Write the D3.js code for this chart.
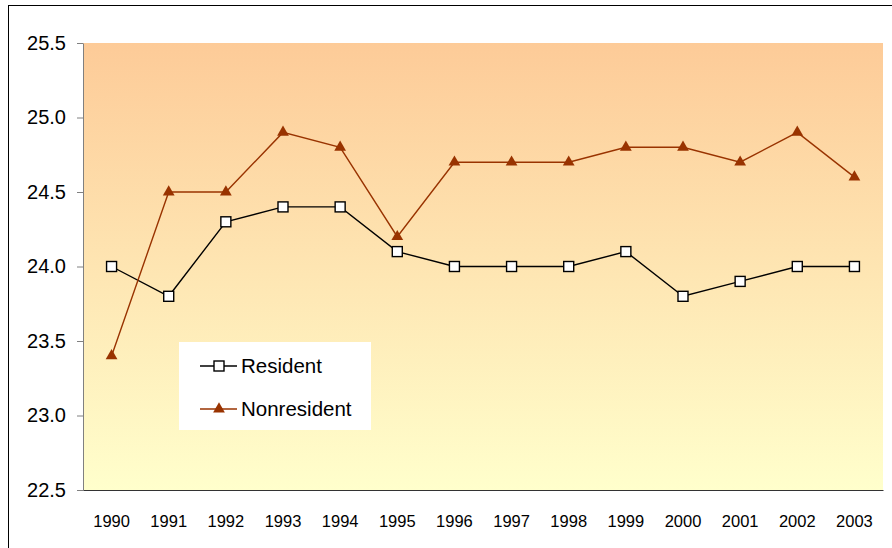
<!DOCTYPE html>
<html><head><meta charset="utf-8">
<script src="https://cdn.jsdelivr.net/npm/d3@7"></script>
<style>body{margin:0;background:#fff;font-family:"Liberation Sans",Arial,sans-serif;}</style>
</head><body>
<svg id="chart" width="892" height="548"></svg>
<script>
const years = ["1990","1991","1992","1993","1994","1995","1996","1997","1998","1999","2000","2001","2002","2003"];
const resident = [24.0,23.8,24.3,24.4,24.4,24.1,24.0,24.0,24.0,24.1,23.8,23.9,24.0,24.0];
const nonresident = [23.4,24.5,24.5,24.9,24.8,24.2,24.7,24.7,24.7,24.8,24.8,24.7,24.9,24.6];
const yTicks = [22.5,23.0,23.5,24.0,24.5,25.0,25.5];
const seriesNames = ["Resident","Nonresident"];

const svg = d3.select("#chart");
const L=83, R=883, T=43, B=490;

// outer border
svg.append("rect").attr("x",8.5).attr("y",5.5).attr("width",900).attr("height",600)
  .attr("fill","none").attr("stroke","#000").attr("stroke-width",1);

const defs = svg.append("defs");
const grad = defs.append("linearGradient").attr("id","bg").attr("x1",0).attr("y1",0).attr("x2",0).attr("y2",1);
grad.append("stop").attr("offset","0%").attr("stop-color","#FDCB98");
grad.append("stop").attr("offset","100%").attr("stop-color","#FFFFCC");

svg.append("rect").attr("x",L).attr("y",T).attr("width",R-L).attr("height",B-T).attr("fill","url(#bg)");

const x = d3.scaleBand().domain(years).range([L,R]);
const y = d3.scaleLinear().domain([22.5,25.5]).range([B,T]);

// y axis
const yAxis = svg.append("g").attr("transform",`translate(${L},0)`)
  .call(d3.axisLeft(y).tickValues(yTicks).tickFormat(d3.format(".1f")).tickSize(6).tickSizeOuter(0));
yAxis.select(".domain").attr("stroke","#808080");
yAxis.selectAll(".tick line").attr("stroke","#808080");
yAxis.selectAll("text").attr("font-size",20).attr("font-family","Liberation Sans, Arial").attr("fill","#000").attr("x",-17);

// x axis
const xAxis = svg.append("g").attr("transform",`translate(0,${B})`)
  .call(d3.axisBottom(x).tickSize(0).tickSizeOuter(0));
xAxis.select(".domain").attr("stroke","#333");
xAxis.selectAll("text").attr("font-size",16.5).attr("font-family","Liberation Sans, Arial").attr("fill","#000").attr("dy","0").attr("y",37);

const cx = (d,i)=> x(years[i]) + x.bandwidth()/2;
const line = d3.line().x((d,i)=>cx(d,i)).y(d=>y(d));

svg.append("path").datum(resident).attr("d",line).attr("fill","none").attr("stroke","#000").attr("stroke-width",1.4);
svg.append("path").datum(nonresident).attr("d",line).attr("fill","none").attr("stroke","#993300").attr("stroke-width",1.4);

const sq = 10;
svg.selectAll(".res").data(resident).enter().append("rect")
  .attr("x",(d,i)=>cx(d,i)-sq/2).attr("y",d=>y(d)-sq/2).attr("width",sq).attr("height",sq)
  .attr("fill","#fff").attr("stroke","#000").attr("stroke-width",1.4);

const tri = d3.symbol().type(d3.symbolTriangle).size(60);
svg.selectAll(".non").data(nonresident).enter().append("path")
  .attr("d",tri).attr("transform",(d,i)=>`translate(${cx(d,i)},${y(d)})`)
  .attr("fill","#993300");

// legend
const lg = svg.append("g");
lg.append("rect").attr("x",179).attr("y",342).attr("width",192).attr("height",88).attr("fill","#fff");
const items = [{name:seriesNames[0],y:366,color:"#000",type:"sq"},{name:seriesNames[1],y:409,color:"#993300",type:"tri"}];
items.forEach(it=>{
  lg.append("line").attr("x1",200).attr("x2",237).attr("y1",it.y).attr("y2",it.y).attr("stroke",it.color).attr("stroke-width",1.4);
  if(it.type==="sq"){
    lg.append("rect").attr("x",219-sq/2).attr("y",it.y-sq/2).attr("width",sq).attr("height",sq).attr("fill","#fff").attr("stroke","#000").attr("stroke-width",1.4);
  } else {
    lg.append("path").attr("d",tri).attr("transform",`translate(219,${it.y})`).attr("fill","#993300");
  }
  lg.append("text").attr("x",241).attr("y",it.y).attr("dy","0.36em").attr("font-size",20.5).attr("fill","#000").text(it.name);
});
</script>
</body></html>
